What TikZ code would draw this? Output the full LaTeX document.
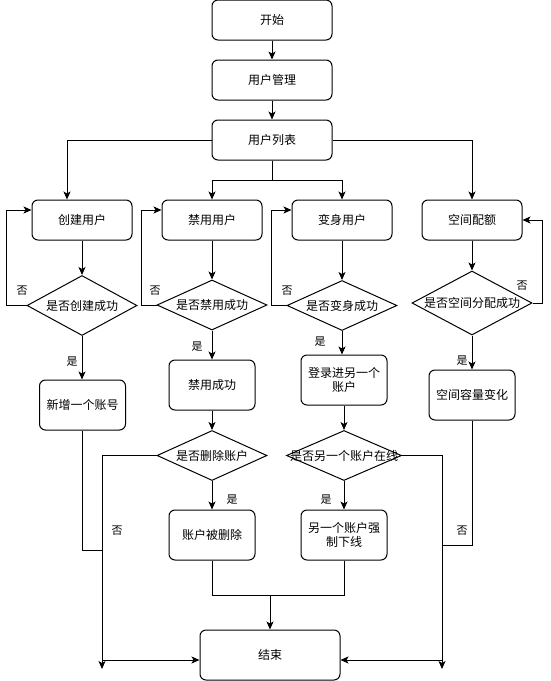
\documentclass[tikz,border=0pt]{standalone}
\usepackage{fontspec}
\setmainfont{Noto Sans CJK SC}
\usetikzlibrary{shapes.geometric,arrows.meta}
\tikzset{
  box/.style={draw, rectangle, rounded corners=6pt, line width=1pt, align=center, inner sep=0pt,
    minimum width=#1, font=\fontsize{12pt}{14pt}\selectfont},
  box/.default=100pt,
  dia/.style={draw, diamond, line width=1pt, inner sep=0pt},
  lbl/.style={font=\fontsize{12pt}{14pt}\selectfont, inner sep=0pt},
  elbl/.style={font=\fontsize{11pt}{13pt}\selectfont, inner sep=0pt},
  arr/.style={line width=1pt, -{Stealth[length=8pt,width=7pt,inset=2pt]}},
  ln/.style={line width=1pt},
}
\begin{document}
\begin{tikzpicture}[x=1pt,y=-1pt]
\useasboundingbox (0,0) rectangle (551,681);
% boxes
\node[box=120pt, minimum height=40pt] (start) at (272,20) {开始};
\node[box=120pt, minimum height=40pt] (mgmt) at (272,80) {用户管理};
\node[box=120pt, minimum height=40pt] (list) at (272,140) {用户列表};
\node[box=100pt, minimum height=40pt] (create) at (82,220) {创建用户};
\node[box=100pt, minimum height=40pt] (ban) at (212,220) {禁用用户};
\node[box=100pt, minimum height=40pt] (morph) at (342,220) {变身用户};
\node[box=100pt, minimum height=40pt] (quota) at (472,220) {空间配额};
% diamonds
\node[dia, minimum width=110pt, minimum height=60pt, label={[lbl]center:是否创建成功}] (d1) at (82,305.5) {};
\node[dia, minimum width=110pt, minimum height=50pt, label={[lbl]center:是否禁用成功}] (d2) at (212,305) {};
\node[dia, minimum width=110pt, minimum height=50pt, label={[lbl]center:是否变身成功}] (d3) at (342,305.5) {};
\node[dia, minimum width=120pt, minimum height=64pt, label={[lbl]center:是否空间分配成功}] (d4) at (472,303) {};
% second level boxes
\node[box=86pt, minimum height=50pt] (new) at (82.5,405) {新增一个账号};
\node[box=86pt, minimum height=50pt] (banok) at (212,385) {禁用成功};
\node[box=86pt, minimum height=50pt] (login) at (344,380) {登录进另一个\\账户};
\node[box=86pt, minimum height=50pt] (spacechg) at (472,395) {空间容量变化};
\node[dia, minimum width=110pt, minimum height=50pt, label={[lbl]center:是否删除账户}] (dd) at (212,455.5) {};
\node[dia, minimum width=115pt, minimum height=50pt, label={[lbl]center:是否另一个账户在线}] (do) at (344,455.5) {};
\node[box=86pt, minimum height=50pt] (deleted) at (212,535) {账户被删除};
\node[box=86pt, minimum height=50pt] (forced) at (344,535) {另一个账户强\\制下线};
\node[box=140pt, minimum height=50pt] (end) at (270,655) {结束};
% coordinates
\coordinate (j1) at (272,180);
\coordinate (jl) at (102,550);
\coordinate (jr) at (442,545);
\coordinate (j2) at (270,595);
\coordinate (ldown) at (102,669);
\coordinate (rdown) at (442,669);
% connectors
\draw[arr] (start) -- (mgmt);
\draw[arr] (mgmt) -- (list);
\draw[arr] (list.west) -| ([xshift=-15pt]create.north);
\draw[ln] (list.south) -- (j1);
\draw[arr] (j1) -| (ban.north);
\draw[arr] (j1) -| (morph.north);
\draw[arr] (list.east) -| (quota.north);
\draw[arr] (create) -- (d1);
\draw[arr] (d1.west) -- ++(-20,0) |- ([yshift=10pt]create.west);
\draw[arr] (d1.south) -- (d1.south |- new.north);
\draw[arr] (ban) -- (d2);
\draw[arr] (d2.west) -- ++(-15,0) |- ([yshift=10pt]ban.west);
\draw[arr] (d2.south) -- (banok.north);
\draw[arr] (morph) -- (d3);
\draw[arr] (d3.west) -- ++(-15,0) |- ([yshift=10pt]morph.west);
\draw[arr] (d3.south) -- (d3.south |- login.north);
\draw[arr] (quota) -- (d4);
\draw[arr] (d4.east) -- ++(10,0) |- (quota.east);
\draw[arr] (d4.south) -- (spacechg.north);
\draw[arr] (banok) -- (dd);
\draw[arr] (login) -- (do);
\draw[arr] (dd.south) -- (deleted.north);
\draw[arr] (do.south) -- (forced.north);
\draw[arr] (dd.west) -| (ldown);
\draw[arr] (do.east) -| (rdown);
\draw[ln] (new.south) |- (jl);
\draw[arr] (jl) |- ([yshift=-5pt]end.west);
\draw[ln] (spacechg.south) |- (jr);
\draw[arr] (jr) |- ([yshift=-5pt]end.east);
\draw[ln] (deleted.south) |- (j2);
\draw[ln] (forced.south) |- (j2);
\draw[arr] (j2) -- (end.north);
% edge labels
\node[elbl] (n1) at (22,291) {否};
\node[elbl] (y1) at (72,362) {是};
\node[elbl] (n2) at (155,291) {否};
\node[elbl] (y2) at (197,347) {是};
\node[elbl] (n3) at (287,291) {否};
\node[elbl] (y3) at (320,342) {是};
\node[elbl] (n4) at (522,286) {否};
\node[elbl] (y4) at (462,361) {是};
\node[elbl] (y5) at (232,500) {是};
\node[elbl] (y6) at (326,500) {是};
\node[elbl] (n5) at (117,531) {否};
\node[elbl] (n6) at (462,531) {否};
\end{tikzpicture}
\end{document}
